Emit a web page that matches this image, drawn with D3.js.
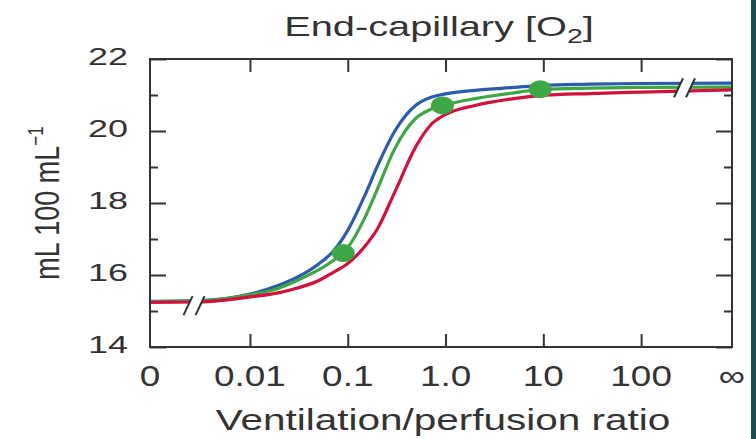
<!DOCTYPE html>
<html>
<head>
<meta charset="utf-8">
<script src="https://cdn.jsdelivr.net/npm/d3@7"></script>
<style>
  body { margin: 0; background: #fff; }
  text { font-family: "Liberation Sans", Arial, sans-serif; fill: #333; }
</style>
</head>
<body>
<div id="chart"></div>
<script>
const width = 756;
const height = 439;
const frame = { left: 150, right: 732, top: 59, bottom: 347 };

// 0 and infinity sit at the two ends of the broken log axis
const ZERO = 0.00095;
const INF = 850;

const ratios = [ZERO, 0.003, 0.01, 0.02, 0.03, 0.05, 0.07, 0.1, 0.15, 0.2, 0.3, 0.5, 0.7, 1, 2, 5, 10, 30, 100, INF];
const blueValues  = [15.27, 15.29, 15.47, 15.72, 15.93, 16.30, 16.64, 17.24, 18.22, 19.01, 19.98, 20.72, 20.93, 21.03, 21.13, 21.21, 21.27, 21.30, 21.32, 21.33];
const greenValues = [15.26, 15.28, 15.45, 15.64, 15.84, 16.14, 16.39, 16.76, 17.60, 18.37, 19.49, 20.36, 20.60, 20.73, 20.90, 21.06, 21.16, 21.19, 21.21, 21.22];
const redValues   = [15.24, 15.25, 15.39, 15.51, 15.63, 15.84, 16.06, 16.32, 16.80, 17.27, 18.28, 19.58, 20.16, 20.46, 20.71, 20.90, 20.99, 21.04, 21.08, 21.14];

const dotRatios = [0.09, 0.93, 9.3];
const dotValues = [16.61, 20.71, 21.16];

const xTickValues = [0.01, 0.1, 1, 10, 100];
const xLabelRatios = [ZERO, 0.01, 0.1, 1, 10, 100, INF];
const xLabels = ["0", "0.01", "0.1", "1.0", "10", "100", "\u221E"];
const yMajor = [14, 16, 18, 20, 22];
const yMinor = [15, 17, 19, 21];

const breakRatios = [0.00268, 278];
const breakValues = [15.15, 21.2];

const series = [
  { name: "blue", color: "#2b5cab", values: blueValues },
  { name: "green", color: "#3fa646", values: greenValues },
  { name: "red", color: "#d2123d", values: redValues }
];

const svg = d3.select("#chart")
  .append("svg")
  .attr("width", width)
  .attr("height", height);

const x = d3.scaleLog().domain([ZERO, INF]).range([frame.left, frame.right]);
const y = d3.scaleLinear().domain([14, 22]).range([frame.bottom, frame.top]);

const line = d3.line()
  .x((d) => x(d[0]))
  .y((d) => y(d[1]))
  .curve(d3.curveMonotoneX);

svg.append("g")
  .selectAll("path")
  .data(series)
  .enter()
  .append("path")
  .attr("d", (s) => line(ratios.map((r, i) => [r, s.values[i]])))
  .attr("fill", "none")
  .attr("stroke", (s) => s.color)
  .attr("stroke-width", 3.2);

svg.append("g")
  .selectAll("ellipse")
  .data(dotRatios)
  .enter()
  .append("ellipse")
  .attr("cx", (d) => x(d))
  .attr("cy", (d, i) => y(dotValues[i]))
  .attr("rx", 11.5)
  .attr("ry", 9)
  .attr("fill", "#3fa646");

// axis breaks: white gap plus two slashes
const brk = svg.append("g");
breakRatios.forEach((r, i) => {
  const cx = x(r), cy = y(breakValues[i]);
  const hx = 4.5, hy = 9.5, off = 6;
  brk.append("polygon")
    .attr("points", [
      [cx - off - hx, cy + hy], [cx - off + hx, cy - hy],
      [cx + off + hx, cy - hy], [cx + off - hx, cy + hy]
    ].join(" "))
    .attr("fill", "#fff");
  [-off, off].forEach((o) => {
    brk.append("line")
      .attr("x1", cx + o - hx).attr("y1", cy + hy)
      .attr("x2", cx + o + hx).attr("y2", cy - hy)
      .attr("stroke", "#333")
      .attr("stroke-width", 2);
  });
});

// ticks, all pointing into the plot
function tickGroup(axis, tx, ty) {
  svg.append("g")
    .attr("transform", `translate(${tx},${ty})`)
    .call(axis)
    .call((g) => g.select(".domain").remove())
    .call((g) => g.selectAll("line").attr("stroke", "#333").attr("stroke-width", 2))
    .call((g) => g.selectAll("text").remove());
}
tickGroup(d3.axisLeft(y).tickValues(yMajor).tickSize(-16), frame.left, 0);
tickGroup(d3.axisLeft(y).tickValues(yMinor).tickSize(-8), frame.left, 0);
tickGroup(d3.axisRight(y).tickValues(yMajor).tickSize(-16), frame.right, 0);
tickGroup(d3.axisRight(y).tickValues(yMinor).tickSize(-8), frame.right, 0);
tickGroup(d3.axisBottom(x).tickValues(xTickValues).tickSize(-13), 0, frame.bottom);
tickGroup(d3.axisTop(x).tickValues(xTickValues).tickSize(-13), 0, frame.top);

svg.append("rect")
  .attr("x", frame.left)
  .attr("y", frame.top)
  .attr("width", frame.right - frame.left)
  .attr("height", frame.bottom - frame.top)
  .attr("fill", "none")
  .attr("stroke", "#333")
  .attr("stroke-width", 2);

// labels (the source picture is stretched horizontally)
svg.append("g")
  .selectAll("text")
  .data(yMajor)
  .enter()
  .append("text")
  .attr("transform", (d) => `translate(128,${y(d) + 6}) scale(1.5,1)`)
  .attr("text-anchor", "end")
  .attr("font-size", 24)
  .text((d) => d);

svg.append("g")
  .selectAll("text")
  .data(xLabels)
  .enter()
  .append("text")
  .attr("transform", (d, i) => `translate(${x(xLabelRatios[i])},386) scale(1.23,1)`)
  .attr("text-anchor", "middle")
  .attr("font-size", 30)
  .text((d) => d);

svg.append("text")
  .attr("transform", "translate(443,430) scale(1.35,1)")
  .attr("text-anchor", "middle")
  .attr("font-size", 30)
  .text("Ventilation/perfusion ratio");

const title = svg.append("text")
  .attr("transform", "translate(439,36) scale(1.42,1)")
  .attr("text-anchor", "middle")
  .attr("font-size", 28);
title.append("tspan").text("End-capillary [O");
title.append("tspan").attr("font-size", 20).attr("dy", 7).text("2");
title.append("tspan").attr("dy", -7).text("]");

const ylab = svg.append("text")
  .attr("transform", "translate(59,203) rotate(-90) scale(1,1.3)")
  .attr("text-anchor", "middle")
  .attr("font-size", 27);
ylab.append("tspan").text("mL 100 mL");
ylab.append("tspan").attr("font-size", 17).attr("dy", -12).text("\u22121");

svg.append("rect")
  .attr("x", 751)
  .attr("y", 0)
  .attr("width", 5)
  .attr("height", height)
  .attr("fill", "#1e4b50");
</script>
</body>
</html>
